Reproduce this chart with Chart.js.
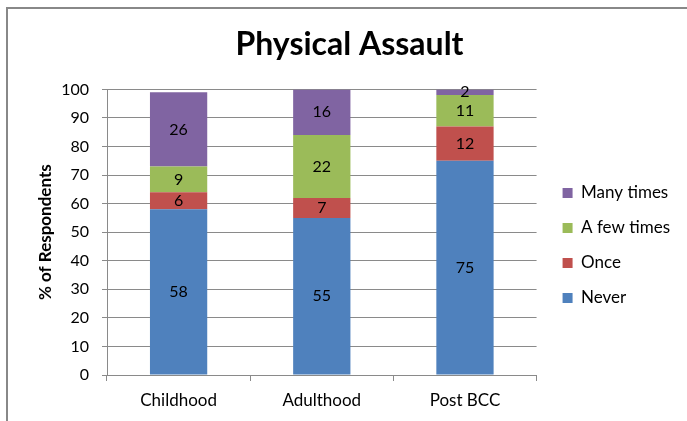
<!DOCTYPE html>
<html lang="en">
<head>
    <meta charset="UTF-8">
    <title>Physical Assault</title>
    <script src="https://cdn.jsdelivr.net/npm/chart.js@4.4.1/dist/chart.umd.min.js"></script>
</head>
<style>
    body {
        margin: 0;
        background: #fff;
    }
    #wrap {
        width: 687px;
        height: 421px;
    }
</style>
<body>
    <div id="wrap"><canvas id="chart"></canvas></div>

    <script>
        const categories = ['Childhood', 'Adulthood', 'Post BCC'];
        const never = [58, 55, 75];
        const once = [6, 7, 12];
        const fewTimes = [9, 22, 11];
        const manyTimes = [26, 16, 2];

        const FONT = 'Lato, "Liberation Sans", sans-serif';
        const GRID = '#8a8a8a';

        // frame lines of the original picture (top and left only)
        const framePlugin = {
            id: 'frame',
            beforeDraw(chart) {
                const ctx = chart.ctx;
                ctx.save();
                ctx.strokeStyle = '#888';
                ctx.lineWidth = 2;
                ctx.beginPath();
                ctx.moveTo(7, 421);
                ctx.lineTo(7, 8);
                ctx.lineTo(687, 8);
                ctx.stroke();
                ctx.restore();
            }
        };

        // push the legend a little further from the plot, like excel does
        const legendNudge = {
            id: 'legendNudge',
            afterLayout(chart) {
                chart.legend.left += 8;
                chart.legend.right += 8;
            }
        };

        // value labels in the middle of each segment
        const labelPlugin = {
            id: 'segLabels',
            afterDatasetsDraw(chart) {
                const ctx = chart.ctx;
                ctx.save();
                ctx.font = '16px ' + FONT;
                ctx.fillStyle = '#000';
                ctx.textAlign = 'center';
                ctx.textBaseline = 'middle';
                chart.data.datasets.forEach((ds, i) => {
                    chart.getDatasetMeta(i).data.forEach((bar, j) => {
                        ctx.fillText(ds.data[j], bar.x, (bar.y + bar.base) / 2);
                    });
                });
                ctx.restore();
            }
        };

        new Chart(document.getElementById('chart'), {
            type: 'bar',
            data: {
                labels: categories,
                datasets: [
                    { label: 'Never', data: never, backgroundColor: '#4f81bd' },
                    { label: 'Once', data: once, backgroundColor: '#c0504d' },
                    { label: 'A few times', data: fewTimes, backgroundColor: '#9bbb59' },
                    { label: 'Many times', data: manyTimes, backgroundColor: '#8064a2' }
                ]
            },
            options: {
                responsive: true,
                maintainAspectRatio: false,
                animation: false,
                categoryPercentage: 1,
                barPercentage: 0.4,
                layout: { padding: { left: 27, top: 5, right: 15, bottom: 0 } },
                plugins: {
                    title: {
                        display: true,
                        text: 'Physical Assault',
                        color: '#000',
                        font: { family: FONT, size: 32, weight: 'bold' },
                        padding: { top: 20, bottom: 26 }
                    },
                    legend: {
                        position: 'right',
                        align: 'start',
                        reverse: true,
                        title: {
                            display: true,
                            text: ' ',
                            font: { family: FONT, size: 17 },
                            padding: { top: 0, bottom: 141 }
                        },
                        labels: {
                            color: '#000',
                            font: { family: FONT, size: 17 },
                            boxWidth: 10,
                            boxHeight: 10,
                            padding: 18
                        }
                    },
                    tooltip: { enabled: false }
                },
                scales: {
                    x: {
                        stacked: true,
                        afterFit: s => { s.height = 46; },
                        grid: { drawOnChartArea: false, color: GRID, tickLength: 6 },
                        border: { color: GRID },
                        ticks: { color: '#000', font: { family: FONT, size: 17 }, padding: 9 }
                    },
                    y: {
                        stacked: true,
                        min: 0,
                        max: 100,
                        afterFit: s => { s.width = 80; },
                        ticks: { stepSize: 10, color: '#000', font: { family: FONT, size: 16 }, padding: 13 },
                        grid: { color: GRID, tickLength: 5 },
                        border: { color: GRID },
                        title: {
                            display: true,
                            text: '% of Respondents',
                            color: '#000',
                            font: { family: FONT, size: 17, weight: 'bold' },
                            padding: { top: 8, bottom: 0 }
                        }
                    }
                }
            },
            plugins: [framePlugin, legendNudge, labelPlugin]
        });
    </script>
</body>
</html>
